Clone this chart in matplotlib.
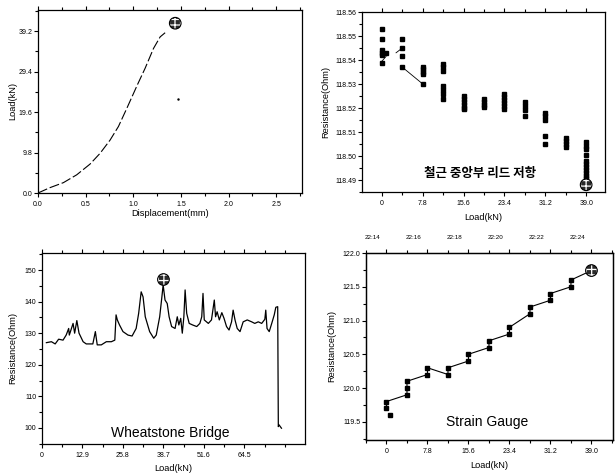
import matplotlib
matplotlib.use("Agg")
import matplotlib.pyplot as plt
from matplotlib.ticker import MultipleLocator
import matplotlib.transforms as mtransforms

plt.rcParams['font.family'] = ['Liberation Sans', 'DejaVu Sans']
plt.rcParams['hatch.linewidth'] = 0.9

# ---------------- data ----------------
# Top-left: load vs displacement
disp_mm = [0, 0.126, 0.266, 0.406, 0.546, 0.651, 0.756, 0.844, 0.932, 1.043, 1.124, 1.212, 1.282, 1.334]
disp_load = [0, 1.3, 2.5, 4.4, 7.0, 9.6, 12.8, 16.1, 20.5, 26.2, 30.2, 35.0, 37.8, 38.8]
disp_fail = (1.44, 41.1)
disp_stray = (1.47, 22.8)
disp_xticks = [0.0, 0.5, 1.0, 1.5, 2.0, 2.5]
disp_yticks = [0.0, 9.8, 19.6, 29.4, 39.2]

# Top-right: lead resistance at rebar centre
lead_load = [0, 0, 0, 0, 0, 0, 0.8,
             3.9, 3.9, 3.9, 3.9,
             7.8, 7.8, 7.8, 7.8, 7.8,
             11.7, 11.7, 11.7, 11.7, 11.7, 11.7, 11.7,
             15.6, 15.6, 15.6, 15.6, 15.6, 15.6,
             19.5, 19.5, 19.5, 19.5,
             23.4, 23.4, 23.4, 23.4, 23.4, 23.4,
             27.3, 27.3, 27.3, 27.3,
             31.2, 31.2, 31.2, 31.2, 31.2,
             35.1, 35.1, 35.1, 35.1,
             39.0, 39.0, 39.0, 39.0, 39.0, 39.0, 39.0, 39.0, 39.0, 39.0, 39.0]
lead_res = [118.5529, 118.5486, 118.5442, 118.5430, 118.5421, 118.5389, 118.5430,
            118.5488, 118.5449, 118.5418, 118.5370,
            118.5372, 118.5362, 118.5352, 118.5340, 118.5300,
            118.5383, 118.5370, 118.5355, 118.5290, 118.5275, 118.5260, 118.5238,
            118.5250, 118.5238, 118.5226, 118.5214, 118.5202, 118.5194,
            118.5238, 118.5226, 118.5214, 118.5204,
            118.5258, 118.5245, 118.5232, 118.5219, 118.5207, 118.5197,
            118.5224, 118.5207, 118.5190, 118.5167,
            118.5178, 118.5165, 118.5148, 118.5082, 118.5050,
            118.5076, 118.5063, 118.5050, 118.5039,
            118.5058, 118.5040, 118.5028, 118.5004, 118.4980, 118.4968, 118.4955,
            118.4942, 118.4930, 118.4918, 118.4908]
lead_seg_load = [[0.0, 0.8], [2.7, 3.6], [3.9, 7.8]]
lead_seg_res = [[118.5395, 118.5415], [118.5430, 118.5445], [118.5370, 118.5300]]
lead_fail = (39.0, 118.4880)
lead_ticks = [0, 7.8, 15.6, 23.4, 31.2, 39.0]
lead_tick_labels = ['0', '7.8', '15.6', '23.4', '31.2', '39.0']
lead_yticks = [118.49, 118.50, 118.51, 118.52, 118.53, 118.54, 118.55, 118.56]

# Bottom-left: Wheatstone bridge
wb_load = [1.4, 3.0, 4.2, 5.3, 6.7, 7.7, 8.5, 8.7, 9.9, 10.4,
           11.1, 11.8, 13.1, 14.1, 16.2, 17.0, 17.6, 18.9, 20.5, 22.1,
           23.2, 23.6, 24.0, 24.7, 25.8, 27.4, 28.7, 30.0, 30.8, 31.6,
           32.2, 32.9, 34.3, 35.6, 36.4, 37.5, 38.2, 38.6, 39.2, 39.9,
           40.5, 41.3, 42.4, 43.1, 43.6, 44.2, 44.7, 45.2, 45.6, 46.1,
           46.9, 48.0, 49.3, 50.3, 50.9, 51.3, 51.7, 53.0, 54.0, 54.9,
           55.3, 55.8, 56.5, 57.3, 58.0, 58.8, 59.6, 60.4, 60.9, 61.5,
           62.2, 63.1, 64.1, 65.4, 66.8, 67.8, 68.9, 70.0, 71.0, 71.3,
           71.7, 72.4, 73.2, 74.0, 74.5, 75.1, 75.3, 75.5, 76.3]
wb_res = [127.0, 127.3, 126.6, 128.1, 127.8, 129.4, 131.5, 129.4, 133.1, 130.0,
          134.0, 130.0, 127.3, 126.6, 126.6, 130.5, 126.3, 126.3, 127.3, 127.3,
          127.8, 135.8, 134.2, 132.6, 130.5, 129.4, 129.1, 131.5, 136.3, 143.1,
          141.5, 135.2, 130.5, 128.4, 129.4, 135.2, 141.5, 145.3, 140.5, 139.4,
          135.2, 132.1, 131.5, 135.2, 132.6, 134.7, 130.0, 135.2, 143.7, 136.3,
          133.1, 132.6, 132.1, 133.1, 135.2, 142.6, 134.2, 133.1, 134.2, 140.5,
          135.2, 136.8, 134.2, 136.5, 134.7, 132.1, 131.0, 133.6, 137.3, 134.2,
          131.5, 130.5, 133.6, 134.2, 133.6, 133.1, 133.6, 133.1, 134.4, 137.3,
          131.5, 130.5, 133.1, 135.8, 138.2, 138.4, 100.4, 101.0, 99.9]
wb_fail = (38.7, 147.0)
wb_ticks = [0, 12.9, 25.8, 38.7, 51.6, 64.5]
wb_tick_labels = ['0', '12.9', '25.8', '38.7', '51.6', '64.5']
wb_yticks = [100, 110, 120, 130, 140, 150]

# Bottom-right: strain gauge
sg_load = [0.7, 0, 0, 3.9, 3.9, 3.9, 7.8, 7.8, 11.7, 11.7, 15.6, 15.6, 19.5, 19.5,
           23.4, 23.4, 27.3, 27.3, 31.2, 31.2, 35.1, 35.1]
sg_res = [119.6, 119.7, 119.8, 119.9, 120.0, 120.1, 120.2, 120.3, 120.2, 120.3, 120.4, 120.5,
          120.6, 120.7, 120.8, 120.9, 121.1, 121.2, 121.3, 121.4, 121.5, 121.6]
sg_fail = (39.0, 121.74)
sg_ticks = [0, 7.8, 15.6, 23.4, 31.2, 39.0]
sg_tick_labels = ['0', '7.8', '15.6', '23.4', '31.2', '39.0']
sg_yticks = [119.5, 120.0, 120.5, 121.0, 121.5, 122.0]
time_labels = ['22:14', '22:16', '22:18', '22:20', '22:22', '22:24']

# ---------------- figure ----------------
W, H = 616, 473
fig = plt.figure(figsize=(W / 100, H / 100), dpi=100)
fig.patch.set_facecolor('white')

TICK_FS = 5
LAB_FS = 6.7


def add_ax(l, t, r, b):
    ax = fig.add_axes([l / W, 1 - b / H, (r - l) / W, (b - t) / H])
    ax._px = (l, t, r, b)
    return ax


def style(ax, top=True):
    for s in ax.spines.values():
        s.set_linewidth(0.9)
    ax.tick_params(which='both', direction='out', labelsize=TICK_FS, width=0.8,
                   top=top, right=False)
    ax.tick_params(axis='x', which='both', pad=2.5)
    ax.tick_params(axis='y', which='both', pad=1)
    ax.tick_params(which='major', length=3)
    ax.tick_params(which='minor', length=2)


def label_pos(ax, xlabel_py, ylabel_px, xlab, ylab):
    l, t, r, b = ax._px
    ax.set_xlabel(xlab, fontsize=LAB_FS, va='center')
    ax.set_ylabel(ylab, fontsize=LAB_FS, va='center')
    ax.xaxis.set_label_coords(0.5, (b - xlabel_py) / (b - t))
    ax.yaxis.set_label_coords((ylabel_px - l) / (r - l), 0.5)


def globe(ax, x, y, s=70):
    ax.scatter([x], [y], s=s, facecolor='#2a2a2a', edgecolor='white', hatch='+++',
               linewidth=0, zorder=6, clip_on=False)
    ax.scatter([x], [y], s=s, facecolor='none', edgecolor='black', linewidth=0.8,
               zorder=7, clip_on=False)


# ---- top-left ----
ax1 = add_ax(38, 10, 302, 193)
ax1.plot(disp_mm, disp_load, color='black', lw=0.8, dashes=(9, 2.5))
ax1.plot([disp_stray[0]], [disp_stray[1]], marker='.', ms=1.5, color='black')
globe(ax1, *disp_fail)
ax1.set_xlim(0, 2.77)
ax1.set_ylim(0, 44.3)
ax1.set_xticks(disp_xticks)
ax1.set_xticklabels([f'{v:.1f}' for v in disp_xticks])
ax1.set_yticks(disp_yticks)
ax1.set_yticklabels([f'{v:.1f}' for v in disp_yticks])
ax1.xaxis.set_minor_locator(MultipleLocator(0.25))
ax1.yaxis.set_minor_locator(MultipleLocator(4.9))
style(ax1)
label_pos(ax1, 213, 13, 'Displacement(mm)', 'Load(kN)')

# ---- top-right ----
ax2 = add_ax(362, 12, 605, 192)
for sx, sy in zip(lead_seg_load, lead_seg_res):
    ax2.plot(sx, sy, color='black', lw=0.6)
ax2.plot(lead_load, lead_res, ls='none', marker='s', ms=3.3, color='black')
globe(ax2, *lead_fail)
ax2.set_xlim(-3.8, 42.6)
ax2.set_ylim(118.485, 118.56)
ax2.set_xticks(lead_ticks)
ax2.set_xticklabels(lead_tick_labels)
ax2.set_yticks(lead_yticks)
ax2.set_yticklabels([f'{v:.2f}' for v in lead_yticks])
ax2.xaxis.set_minor_locator(MultipleLocator(3.9))
ax2.yaxis.set_minor_locator(MultipleLocator(0.005))
style(ax2)
label_pos(ax2, 217, 326, 'Load(kN)', 'Resistance(Ohm)')
ax2.text(18.7, 118.4928, '철근 중앙부 리드 저항', fontsize=9, fontweight='bold',
         family=['Noto Sans CJK KR', 'DejaVu Sans'], ha='center', va='center')

# ---- bottom-left ----
ax3 = add_ax(42, 253, 305, 444)
ax3.plot(wb_load, wb_res, color='black', lw=0.9)
globe(ax3, *wb_fail)
ax3.set_xlim(0, 83.8)
ax3.set_ylim(94.9, 155.4)
ax3.set_xticks(wb_ticks)
ax3.set_xticklabels(wb_tick_labels)
ax3.set_yticks(wb_yticks)
ax3.xaxis.set_minor_locator(MultipleLocator(6.45))
ax3.yaxis.set_minor_locator(MultipleLocator(5))
style(ax3)
label_pos(ax3, 468, 13, 'Load(kN)', 'Resistance(Ohm)')
ax3.text(0.487, 0.06, 'Wheatstone Bridge', transform=ax3.transAxes, fontsize=10,
         ha='center', va='center')

# ---- bottom-right ----
ax4 = add_ax(366, 253, 613, 440)
ax4.plot(sg_load[1:] + [sg_fail[0]], sg_res[1:] + [sg_fail[1]], color='black', lw=0.8)
ax4.plot(sg_load, sg_res, ls='none', marker='s', ms=3.5, color='black')
globe(ax4, *sg_fail)
ax4.set_xlim(-3.9, 43.1)
ax4.set_ylim(119.23, 122.0)
ax4.set_xticks(sg_ticks)
ax4.set_xticklabels(sg_tick_labels)
ax4.set_yticks(sg_yticks)
ax4.set_yticklabels([f'{v:.1f}' for v in sg_yticks])
ax4.xaxis.set_minor_locator(MultipleLocator(3.9))
ax4.yaxis.set_minor_locator(MultipleLocator(0.25))
style(ax4, top=False)
label_pos(ax4, 465, 332, 'Load(kN)', 'Resistance(Ohm)')
ax4.text(0.49, 0.095, 'Strain Gauge', transform=ax4.transAxes, fontsize=10,
         ha='center', va='center')

ax4t = ax4.twiny()
ax4t.set_xlim(ax4.get_xlim())
ax4t.set_xticks(sg_ticks)
ax4t.set_xticklabels(time_labels)
ax4t.xaxis.set_minor_locator(MultipleLocator(3.9))
ax4t.tick_params(which='both', direction='out', labelsize=4.5, width=0.8, pad=6.5)
ax4t.tick_params(which='major', length=3)
ax4t.tick_params(which='minor', length=2)
for s in ax4t.spines.values():
    s.set_linewidth(0.9)
offset = mtransforms.ScaledTranslation(-14 / 100, 0, fig.dpi_scale_trans)
for lab in ax4t.get_xticklabels():
    lab.set_transform(lab.get_transform() + offset)

fig.savefig('out.png', dpi=100, facecolor='white')
